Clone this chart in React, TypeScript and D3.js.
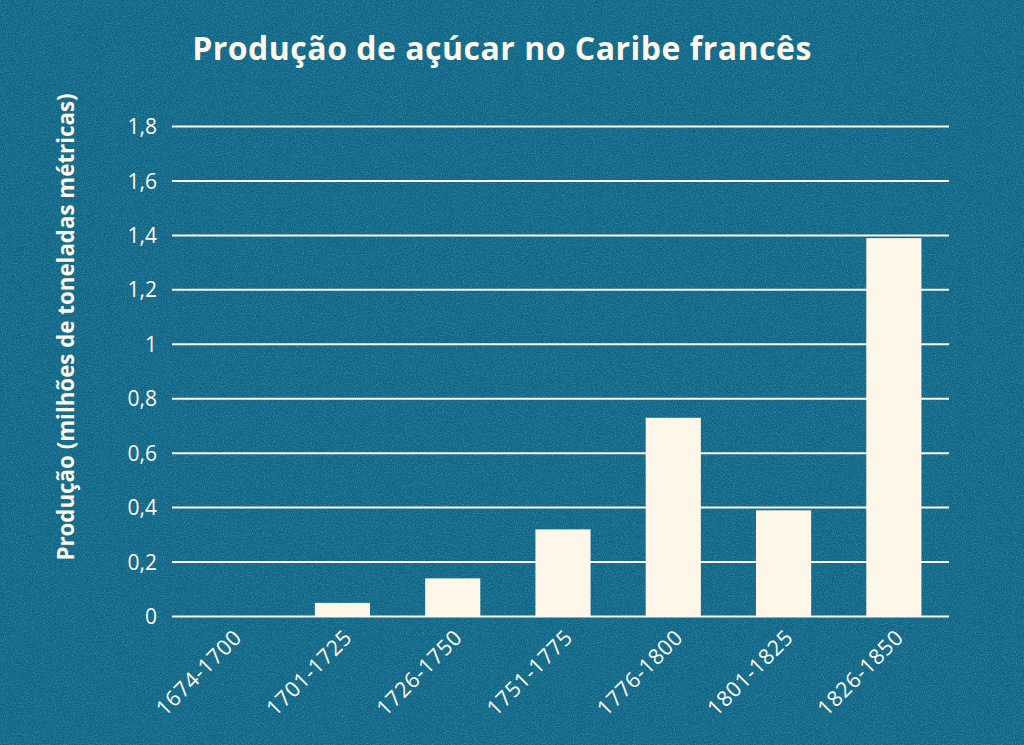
import React from 'react';
import * as d3 from 'd3';

const periods = ['1674-1700', '1701-1725', '1726-1750', '1751-1775', '1776-1800', '1801-1825', '1826-1850'];
const production = [0, 0.05, 0.14, 0.32, 0.73, 0.39, 1.39];
const yTicks = [0, 0.2, 0.4, 0.6, 0.8, 1, 1.2, 1.4, 1.6, 1.8];

const W = 1024;
const H = 745;
const bg = '#0f6383';
const cream = '#fdf7ea';
const font = '"Open Sans", "Noto Sans", sans-serif';

const App: React.FC = () => {
  const x = d3.scaleBand().domain(periods).range([177, 949]).paddingInner(0.5).paddingOuter(0.25);
  const y = d3.scaleLinear().domain([0, 1.8]).range([616.5, 126.5]);
  const fmt = (v: number) => String(v).replace('.', ',');

  return (
    <svg width={W} height={H} style={{ position: 'absolute', left: 0, top: 0 }}>
      <defs>
        <filter id="grain" x="0" y="0" width="100%" height="100%">
          <feTurbulence type="fractalNoise" baseFrequency="0.9" numOctaves={2} seed={3} />
          <feColorMatrix type="matrix" values="0 0 0 0 0.1  0 0 0 0 0.45  0 0 0 0 0.58  0 0 0 1.6 -0.6" />
        </filter>
      </defs>
      <rect width={W} height={H} fill={bg} />
      <rect width={W} height={H} filter="url(#grain)" opacity={0.6} />

      <text x={502} y={60} textAnchor="middle" fill={cream} fontFamily={font} fontWeight={700} fontSize={32} letterSpacing={0.5}>
        Produção de açúcar no Caribe francês
      </text>

      <text
        transform="translate(74,327) rotate(-90)"
        textAnchor="middle"
        fill={cream}
        fontFamily={font}
        fontWeight={700}
        fontSize={22.3}
      >
        Produção (milhões de toneladas métricas)
      </text>

      {yTicks.map(t => (
        <g key={t}>
          <line x1={172} x2={949} y1={y(t)} y2={y(t)} stroke={cream} strokeWidth={2} />
          <text x={157} y={y(t)} dy="0.36em" textAnchor="end" fill={cream} fontFamily={font} fontSize={21}>
            {fmt(t)}
          </text>
        </g>
      ))}

      {periods.map((p, i) =>
        production[i] > 0 ? (
          <rect
            key={p}
            x={x(p)!}
            y={y(production[i])}
            width={x.bandwidth()}
            height={y(0) - y(production[i])}
            fill={cream}
          />
        ) : null
      )}

      {periods.map(p => (
        <text
          key={p}
          transform={`translate(${x(p)! + x.bandwidth() / 2 + 11},${639}) rotate(-45)`}
          textAnchor="end"
          fill={cream}
          fontFamily={font}
          fontSize={21.5}
          letterSpacing={0.6}
        >
          {p}
        </text>
      ))}
    </svg>
  );
};

export default App;
